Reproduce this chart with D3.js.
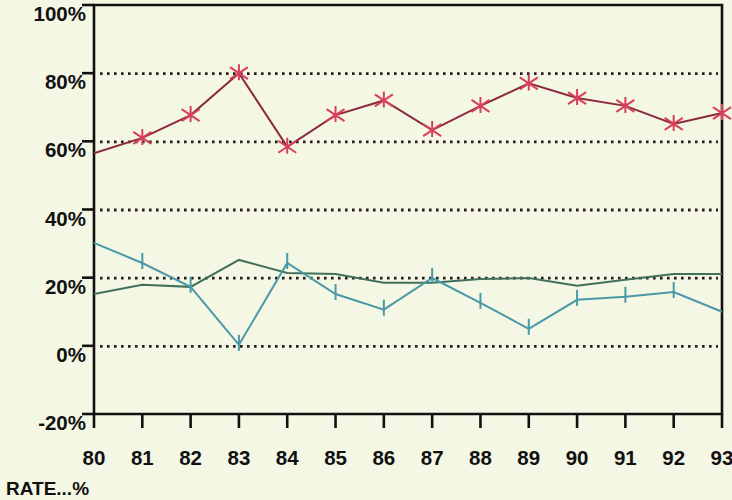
<!DOCTYPE html>
<html><head><meta charset="utf-8">
<script src="https://cdn.jsdelivr.net/npm/d3@7"></script>
<style>
html,body{margin:0;padding:0;background:#f5f7e5;}
svg{display:block;font-family:"Liberation Sans",Arial,Helvetica,sans-serif;}
</style></head>
<body><svg id="c" width="732" height="500"></svg>
<script>
const years = [80,81,82,83,84,85,86,87,88,89,90,91,92,93];
const redSeries   = [56.5,61,67.7,80,58.4,67.7,72,63.3,70.4,77,72.7,70.4,65.1,68.3];
const tealSeries  = [30.2,24.3,17.3,0.3,24.3,15.2,10.6,19.9,12.6,5.0,13.5,14.4,15.8,10.0];
const greenSeries = [15.2,17.9,17.3,25.2,21.4,21.1,18.5,18.5,19.6,19.9,17.6,19.4,21.1,21.1];
const yTicks = [-20,0,20,40,60,80,100];
const gridValues = [0,20,40,60,80];
const axisTitle = "RATE...%";

const svg = d3.select("#c");
const L = 94, R = 722, T = 5, B = 414;
const x = d3.scaleLinear().domain([80,93]).range([L,R]);
const y = d3.scaleLinear().domain([-20,100]).range([B,T]);

// gridlines
svg.append("g").selectAll("line").data(gridValues).join("line")
  .attr("x1", L+6).attr("x2", R-4)
  .attr("y1", d=>y(d)+0.5).attr("y2", d=>y(d)+0.5)
  .attr("stroke","#2a1c1c").attr("stroke-width",2.8)
  .attr("stroke-dasharray","2.6,4.4");

// frame
svg.append("path")
  .attr("d", `M${L},${T}H${R}V${B}H${L}Z`)
  .attr("fill","none").attr("stroke","#111").attr("stroke-width",2.6);

// y ticks and labels
const yg = svg.append("g");
yg.selectAll("line").data(yTicks).join("line")
  .attr("x1", L-12).attr("x2", L).attr("y1", d=>y(d)).attr("y2", d=>y(d))
  .attr("stroke","#111").attr("stroke-width",2.6);
yg.selectAll("text").data(yTicks).join("text")
  .attr("x", L-8).attr("y", d=>y(d)+16)
  .attr("text-anchor","end").attr("font-size",20.5).attr("font-weight","bold")
  .attr("fill","#111")
  .text(d=>d+"%");

// x ticks and labels
const xg = svg.append("g");
xg.selectAll("line").data(years).join("line")
  .attr("x1", d=>x(d)).attr("x2", d=>x(d)).attr("y1", B).attr("y2", B+14)
  .attr("stroke","#111").attr("stroke-width",2.6);
xg.selectAll("text").data(years).join("text")
  .attr("x", d=>x(d)).attr("y", 465)
  .attr("text-anchor","middle").attr("font-size",20.5).attr("font-weight","bold")
  .attr("fill","#111")
  .text(d=>d);

svg.append("text").attr("x",6).attr("y",495)
  .attr("font-size",19).attr("font-weight","bold").attr("fill","#111")
  .text(axisTitle);

const line = d3.line().x((d,i)=>x(years[i])).y(d=>y(d));

// green series
svg.append("path").datum(greenSeries).attr("d",line)
  .attr("fill","none").attr("stroke","#40705a").attr("stroke-width",2);

// teal series
svg.append("path").datum(tealSeries).attr("d",line)
  .attr("fill","none").attr("stroke","#4a98a8").attr("stroke-width",2);
svg.append("g").selectAll("line").data(tealSeries.slice(1,-1)).join("line")
  .attr("x1",(d,i)=>x(years[i+1])).attr("x2",(d,i)=>x(years[i+1]))
  .attr("y1",d=>y(d)-10).attr("y2",d=>y(d)+6)
  .attr("stroke","#4a98a8").attr("stroke-width",2);

// red series
svg.append("path").datum(redSeries).attr("d",line)
  .attr("fill","none").attr("stroke","#8a2c3c").attr("stroke-width",2);
const star = (cx,cy)=>{
  const p = d3.path();
  p.moveTo(cx,cy-9); p.lineTo(cx,cy+7);
  p.moveTo(cx-9,cy-6); p.lineTo(cx+9,cy+6);
  p.moveTo(cx-9,cy+6); p.lineTo(cx+9,cy-6);
  return p.toString();
};
svg.append("g").selectAll("path").data(redSeries.slice(1)).join("path")
  .attr("d",(d,i)=>star(x(years[i+1]),y(d)))
  .attr("fill","none").attr("stroke","#d8405a").attr("stroke-width",2);
</script>
</body></html>
